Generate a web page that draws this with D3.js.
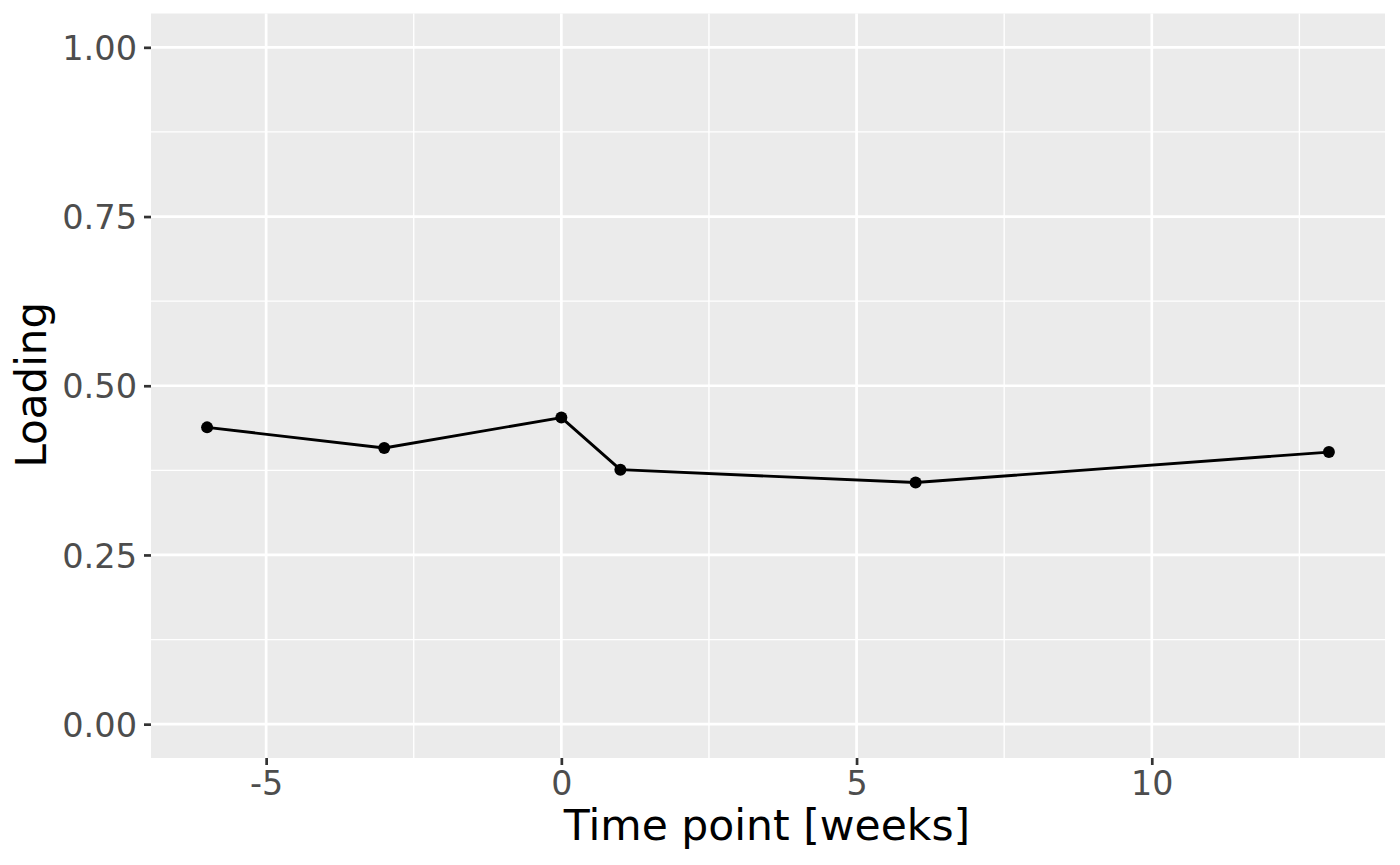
<!DOCTYPE html>
<html>
<head>
<meta charset="utf-8">
<script src="https://cdn.jsdelivr.net/npm/d3@7"></script>
<style>
  html, body { margin: 0; padding: 0; background: #fff; }
  text { font-family: "DejaVu Sans", sans-serif; }
</style>
</head>
<body>
<svg id="chart" width="1400" height="865"></svg>
<script>
const timePoints = [-6, -3, 0, 1, 6, 13];
const loadings = [0.4385, 0.408, 0.453, 0.376, 0.357, 0.402];
const xTicks = [-5, 0, 5, 10];
const xMinor = [-2.5, 2.5, 7.5, 12.5];
const yTicks = [0, 0.25, 0.5, 0.75, 1.0];
const yMinor = [0.125, 0.375, 0.625, 0.875];
const xTitle = "Time point [weeks]";
const yTitle = "Loading";

const W = 1400, H = 865;
const panel = { left: 151, right: 1385, top: 13.5, bottom: 758 };

const svg = d3.select("#chart");

const x = d3.scaleLinear().domain([-6.95, 13.95]).range([panel.left, panel.right]);
const y = d3.scaleLinear().domain([-0.05, 1.05]).range([panel.bottom, panel.top]);

svg.append("rect")
  .attr("x", panel.left).attr("y", panel.top)
  .attr("width", panel.right - panel.left).attr("height", panel.bottom - panel.top)
  .attr("fill", "#EBEBEB");

const grid = svg.append("g");
grid.selectAll(".xminor").data(xMinor).join("line")
  .attr("x1", d => x(d)).attr("x2", d => x(d))
  .attr("y1", panel.top).attr("y2", panel.bottom)
  .attr("stroke", "#fff").attr("stroke-width", 1.35);
grid.selectAll(".yminor").data(yMinor).join("line")
  .attr("y1", d => y(d)).attr("y2", d => y(d))
  .attr("x1", panel.left).attr("x2", panel.right)
  .attr("stroke", "#fff").attr("stroke-width", 1.35);
grid.selectAll(".xmajor").data(xTicks).join("line")
  .attr("x1", d => x(d)).attr("x2", d => x(d))
  .attr("y1", panel.top).attr("y2", panel.bottom)
  .attr("stroke", "#fff").attr("stroke-width", 2.7);
grid.selectAll(".ymajor").data(yTicks).join("line")
  .attr("y1", d => y(d)).attr("y2", d => y(d))
  .attr("x1", panel.left).attr("x2", panel.right)
  .attr("stroke", "#fff").attr("stroke-width", 2.7);

// Axes
const xAxis = d3.axisBottom(x).tickValues(xTicks).tickSize(7).tickPadding(6)
  .tickFormat(d => d < 0 ? "-" + Math.abs(d) : String(d));
const gx = svg.append("g").attr("transform", `translate(0,${panel.bottom})`).call(xAxis);
gx.select(".domain").remove();
gx.selectAll(".tick line").attr("stroke", "#333333").attr("stroke-width", 2.7);
gx.selectAll(".tick text").attr("fill", "#4D4D4D").attr("font-size", 33.3)
  .attr("font-family", "DejaVu Sans").attr("dy", null).attr("y", 37);

const yAxis = d3.axisLeft(y).tickValues(yTicks).tickSize(7).tickPadding(7)
  .tickFormat(d3.format(".2f"));
const gy = svg.append("g").attr("transform", `translate(${panel.left},0)`).call(yAxis);
gy.select(".domain").remove();
gy.selectAll(".tick line").attr("stroke", "#333333").attr("stroke-width", 2.7);
gy.selectAll(".tick text").attr("fill", "#4D4D4D").attr("font-size", 33.6)
  .attr("font-family", "DejaVu Sans").attr("dy", "0.36em").attr("x", -14);

// Line and points
const pts = timePoints.map((t, i) => [t, loadings[i]]);
svg.append("path")
  .datum(pts)
  .attr("d", d3.line().x(d => x(d[0])).y(d => y(d[1])))
  .attr("fill", "none").attr("stroke", "#000").attr("stroke-width", 2.9)
  .attr("stroke-linejoin", "round");
svg.selectAll(".pt").data(pts).join("circle")
  .attr("cx", d => x(d[0])).attr("cy", d => y(d[1])).attr("r", 6)
  .attr("fill", "#000");

// Titles
svg.append("text")
  .attr("x", (panel.left + panel.right) / 2 - 1).attr("y", 840)
  .attr("text-anchor", "middle").attr("font-size", 42.5).attr("fill", "#000")
  .text(xTitle);
svg.append("text")
  .attr("transform", `translate(46,${(panel.top + panel.bottom) / 2 - 1}) rotate(-90)`)
  .attr("text-anchor", "middle").attr("font-size", 42).attr("fill", "#000")
  .text(yTitle);
</script>
</body>
</html>
